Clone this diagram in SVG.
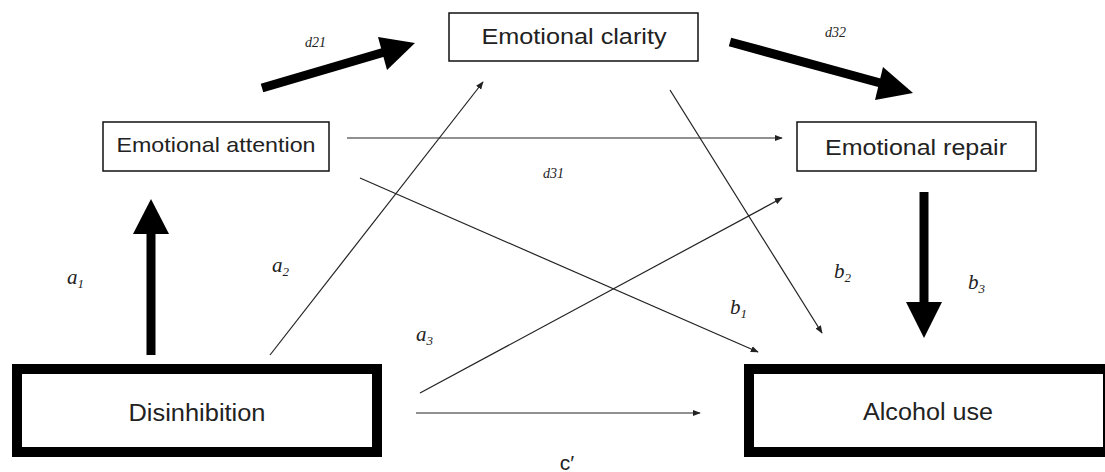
<svg xmlns="http://www.w3.org/2000/svg" width="1105" height="472" viewBox="0 0 1105 472">
<style>
.box{fill:#fff;stroke:#111;stroke-width:1.5}
.tbox{fill:#fff;stroke:#000;stroke-width:10}
.lbl{font-family:"Liberation Sans",Arial,sans-serif;fill:#222;text-anchor:middle}
.thin{stroke:#222;stroke-width:1.2;fill:none;marker-end:url(#sm)}
.thick{stroke:#000;stroke-width:9;fill:none}
.coef{font-family:"Liberation Serif","Times New Roman",serif;font-style:italic;fill:#222}
</style>
<defs>
<marker id="sm" viewBox="0 0 10 10" refX="9" refY="5" markerWidth="8" markerHeight="8" markerUnits="userSpaceOnUse" orient="auto"><path d="M0,1 L10,5 L0,9 Z" fill="#222"/></marker>
</defs>
<rect width="1105" height="472" fill="#fff"/>
<g id="connectors">
<line class="thin" x1="347" y1="138" x2="782" y2="138"/>
<line class="thin" x1="360" y1="178" x2="758" y2="352"/>
<line class="thin" x1="270" y1="355" x2="483" y2="82"/>
<line class="thin" x1="670" y1="90" x2="822" y2="333"/>
<line class="thin" x1="420" y1="393" x2="782" y2="198"/>
<line class="thin" x1="416" y1="413" x2="700" y2="413"/>
<line class="thick" x1="262" y1="88" x2="388" y2="51"/>
<polygon points="415,43 378,37 387,70" fill="#000"/>
<line class="thick" x1="730" y1="42" x2="884" y2="84"/>
<polygon points="913,93 883,67 875,100" fill="#000"/>
<line class="thick" x1="151" y1="355" x2="151" y2="225"/>
<polygon points="151,199 133,234 169,234" fill="#000"/>
<line class="thick" x1="924" y1="192" x2="924" y2="305"/>
<polygon points="924,338 906,302 942,302" fill="#000"/>
</g>
<g id="n-clarity"><rect class="box" x="449" y="13" width="249" height="48"/><text class="lbl" x="574" y="44" font-size="22" textLength="185" lengthAdjust="spacingAndGlyphs">Emotional clarity</text></g>
<g id="n-attention"><rect class="box" x="103" y="122" width="226" height="49"/><text class="lbl" x="216" y="152" font-size="21" textLength="199" lengthAdjust="spacingAndGlyphs">Emotional attention</text></g>
<g id="n-repair"><rect class="box" x="797" y="122" width="239" height="49"/><text class="lbl" x="916" y="155" font-size="22" textLength="182" lengthAdjust="spacingAndGlyphs">Emotional repair</text></g>
<g id="n-disinhibition"><rect class="tbox" x="17" y="369" width="360" height="83"/><text class="lbl" x="197" y="421" font-size="23" textLength="137" lengthAdjust="spacingAndGlyphs">Disinhibition</text></g>
<g id="n-alcohol"><rect class="tbox" x="749" y="369" width="359" height="83"/><text class="lbl" x="928" y="420" font-size="23" textLength="130" lengthAdjust="spacingAndGlyphs">Alcohol use</text></g>
<g id="labels">
<text class="coef" x="305" y="47" font-size="14">d21</text>
<text class="coef" x="825" y="37" font-size="14">d32</text>
<text class="coef" x="543" y="178" font-size="14">d31</text>
<text class="coef" x="67" y="284" font-size="21">a<tspan font-size="13" dy="4">1</tspan></text>
<text class="coef" x="272" y="272" font-size="21">a<tspan font-size="13" dy="4">2</tspan></text>
<text class="coef" x="416" y="341" font-size="21">a<tspan font-size="13" dy="4">3</tspan></text>
<text class="coef" x="730" y="314" font-size="21">b<tspan font-size="13" dy="4">1</tspan></text>
<text class="coef" x="834" y="278" font-size="21">b<tspan font-size="13" dy="4">2</tspan></text>
<text class="coef" x="968" y="289" font-size="21">b<tspan font-size="13" dy="4">3</tspan></text>
<text class="lbl" x="567" y="470" font-size="21">c′</text>
</g>
</svg>
